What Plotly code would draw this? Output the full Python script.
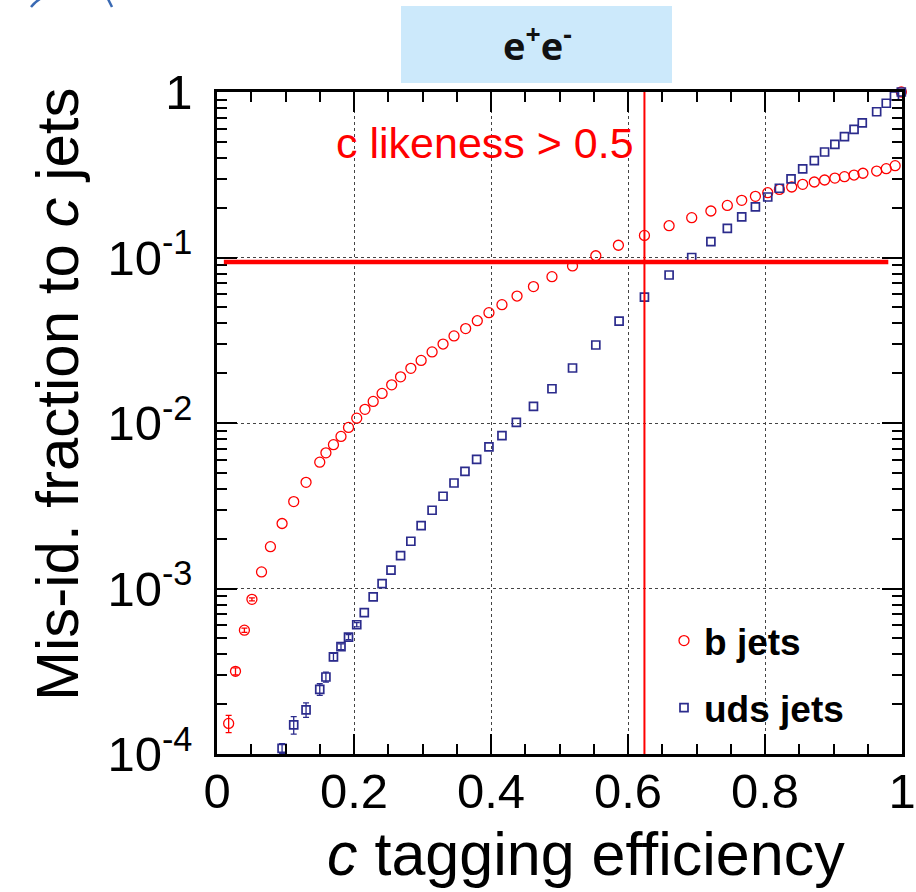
import numpy as np
import plotly.graph_objects as go

# ---------------- data ----------------
b_eff = [0.017, 0.027, 0.040, 0.051, 0.065, 0.078, 0.095, 0.112, 0.130, 0.150,
         0.159, 0.170, 0.181, 0.192, 0.204, 0.216, 0.228, 0.241, 0.255, 0.268,
         0.283, 0.298, 0.314, 0.330, 0.346, 0.363, 0.380, 0.397, 0.416, 0.438,
         0.462, 0.489, 0.519, 0.553, 0.586, 0.624, 0.660, 0.693, 0.721, 0.745,
         0.766, 0.786, 0.804, 0.821, 0.839, 0.855, 0.872, 0.887, 0.902, 0.916,
         0.930, 0.943, 0.963, 0.977, 0.990, 0.999]
b_mis = [1.53e-4, 3.16e-4, 5.6e-4, 8.6e-4, 1.26e-3, 1.79e-3, 2.47e-3, 3.35e-3, 4.38e-3, 5.8e-3,
         6.6e-3, 7.4e-3, 8.3e-3, 9.4e-3, 1.07e-2, 1.21e-2, 1.35e-2, 1.51e-2, 1.70e-2, 1.90e-2,
         2.14e-2, 2.39e-2, 2.69e-2, 3.0e-2, 3.36e-2, 3.72e-2, 4.15e-2, 4.64e-2, 5.19e-2, 5.85e-2,
         6.67e-2, 7.66e-2, 8.89e-2, 0.1025, 0.1186, 0.136, 0.1556, 0.174, 0.191, 0.2065,
         0.2216, 0.2343, 0.2463, 0.258, 0.2667, 0.2768, 0.2859, 0.294, 0.302, 0.308,
         0.315, 0.323, 0.333, 0.344, 0.359, 1.0]
b_err_rel = [0.12, 0.05, 0.03, 0.02] + [0.0] * 52

uds_eff = [0.095, 0.112, 0.130, 0.150, 0.159, 0.170, 0.181, 0.192, 0.204, 0.215,
           0.228, 0.241, 0.254, 0.268, 0.283, 0.298, 0.314, 0.330, 0.346, 0.362,
           0.379, 0.397, 0.416, 0.437, 0.462, 0.489, 0.519, 0.553, 0.587, 0.624,
           0.660, 0.693, 0.721, 0.745, 0.766, 0.786, 0.804, 0.821, 0.838, 0.855,
           0.872, 0.887, 0.902, 0.916, 0.930, 0.942, 0.963, 0.977, 0.989, 0.999]
uds_mis = [1.08e-4, 1.50e-4, 1.85e-4, 2.46e-4, 2.92e-4, 3.86e-4, 4.45e-4, 5.09e-4, 6.04e-4, 7.14e-4,
           8.89e-4, 1.07e-3, 1.29e-3, 1.58e-3, 1.93e-3, 2.40e-3, 2.97e-3, 3.61e-3, 4.34e-3, 5.1e-3,
           6.03e-3, 7.17e-3, 8.38e-3, 1.01e-2, 1.26e-2, 1.61e-2, 2.15e-2, 2.96e-2, 4.13e-2, 5.77e-2,
           7.84e-2, 0.100, 0.1247, 0.150, 0.176, 0.202, 0.232, 0.262, 0.299, 0.343,
           0.385, 0.434, 0.483, 0.537, 0.595, 0.650, 0.760, 0.855, 0.946, 1.0]
uds_err_rel = [0.07, 0.12, 0.10, 0.08, 0.07, 0.05, 0.04, 0.035, 0.03] + [0.0] * 41

x_tickvals = [0, 0.2, 0.4, 0.6, 0.8, 1]
x_ticktext = ["0", "0.2", "0.4", "0.6", "0.8", "1"]
y_tickvals = [1e-4, 1e-3, 1e-2, 1e-1, 1]
y_ticktext = ["10<sup>-4</sup>", "10<sup>-3</sup>", "10<sup>-2</sup>", "10<sup>-1</sup>", "1"]

cut_eff = 0.624      # vertical red line (c likeness > 0.5)
cut_mis = 0.094      # horizontal red line
cut_line_x = [0.01, 0.98]

# ---------------- layout geometry (pixels) ----------------
W, H = 916, 892
L, R, T, B = 217, 902, 92, 754


def px(x):
    return (x - L) / (R - L)


def py(y):
    return (B - y) / (B - T)


def errs(vals, rel):
    # NaN where no error bar is drawn (kept as NaN by the typed-array encoding)
    return np.array([v * e if e > 0 else np.nan for v, e in zip(vals, rel)], dtype=float)


FONT = "Liberation Sans, Arial, Helvetica, sans-serif"
RED = "#ff0000"
NAVY = "#2b2b8c"

fig = go.Figure()

fig.add_trace(go.Scatter(
    x=b_eff, y=b_mis, mode="markers", name="<b>b jets</b>",
    legendgroup="b", cliponaxis=False,
    marker=dict(symbol="circle-open", size=10, color=RED, line=dict(width=1.3, color=RED)),
    error_y=dict(type="data", array=errs(b_mis, b_err_rel),
                 color=RED, thickness=1.3, width=3),
))
fig.add_trace(go.Scatter(
    x=uds_eff, y=uds_mis, mode="markers", name="<b>uds jets</b>",
    legendgroup="uds", cliponaxis=False,
    marker=dict(symbol="square-open", size=8, color=NAVY, line=dict(width=1.7, color=NAVY)),
    error_y=dict(type="data", array=errs(uds_mis, uds_err_rel),
                 color=NAVY, thickness=1.3, width=3),
))

# cut lines
fig.add_shape(type="line", xref="x", yref="paper", x0=cut_eff, x1=cut_eff, y0=0, y1=1,
              line=dict(color=RED, width=2))
fig.add_shape(type="line", xref="x", yref="y", x0=cut_line_x[0], x1=cut_line_x[1],
              y0=cut_mis, y1=cut_mis, line=dict(color=RED, width=4.5))

# title box
fig.add_shape(type="rect", xref="paper", yref="paper",
              x0=px(401), x1=px(672), y0=py(83), y1=py(6),
              fillcolor="#cce9fb", line=dict(width=0), layer="below")
fig.add_annotation(xref="paper", yref="paper", x=px(537), y=py(44),
                   xanchor="center", yanchor="middle",
                   text="<b>e<sup>+</sup>e<sup>-</sup></b>", showarrow=False,
                   font=dict(family="Open Sans, Noto Sans, sans-serif", size=38, color="#111111"))

# fragments of an outer drawing at top-left
fig.add_shape(type="path", xref="paper", yref="paper",
              path=f"M {px(31)} {py(7)} Q {px(35)} {py(2)} {px(40)} {py(-1)}",
              line=dict(color="#3a6ab3", width=2.5))
fig.add_shape(type="path", xref="paper", yref="paper",
              path=f"M {px(108)} {py(-1)} Q {px(110)} {py(3)} {px(112)} {py(7)}",
              line=dict(color="#3a6ab3", width=2.5))

# red label
fig.add_annotation(xref="paper", yref="paper", x=px(485), y=py(143),
                   xanchor="center", yanchor="middle",
                   text="c likeness > 0.5", showarrow=False,
                   font=dict(family=FONT, size=43, color=RED))

# axis titles
fig.add_annotation(xref="paper", yref="paper", x=px(586), y=py(854),
                   xanchor="center", yanchor="middle",
                   text="<i>c</i> tagging efficiency", showarrow=False,
                   font=dict(family=FONT, size=61, color="black"))
fig.add_annotation(xref="paper", yref="paper", x=px(57), y=py(394),
                   xanchor="center", yanchor="middle",
                   text="Mis-id. fraction to <i>c</i> jets", showarrow=False, textangle=-90,
                   font=dict(family=FONT, size=60, color="black"))

axis_common = dict(
    showline=True, linecolor="black", linewidth=2.5, mirror="ticks",
    ticks="inside", ticklen=20, tickwidth=2, tickcolor="black",
    showgrid=True, gridcolor="#444444", gridwidth=1, griddash="dot",
    zeroline=False, automargin=False,
    tickfont=dict(family=FONT, size=49, color="black"),
)

fig.update_xaxes(
    range=[0, 1], tickmode="array", tickvals=x_tickvals, ticktext=x_ticktext,
    minor=dict(dtick=0.05, ticks="inside", ticklen=10, tickwidth=2, tickcolor="black", showgrid=False),
    ticklabelstandoff=-8,
    **axis_common,
)
fig.update_yaxes(
    type="log", range=[-4, 0], tickmode="array", tickvals=y_tickvals, ticktext=y_ticktext,
    minor=dict(dtick="D1", ticks="inside", ticklen=10, tickwidth=2, tickcolor="black", showgrid=False),
    ticklabelstandoff=12,
    **axis_common,
)

fig.update_layout(
    width=W, height=H,
    margin=dict(l=L, r=W - R, t=T, b=H - B, pad=0, autoexpand=False),
    paper_bgcolor="white", plot_bgcolor="white",
    showlegend=True,
    legend=dict(x=px(664), y=py(610), xanchor="left", yanchor="top",
                bgcolor="rgba(0,0,0,0)", borderwidth=0,
                font=dict(family=FONT, size=37, color="black"),
                traceorder="grouped", tracegroupgap=16, itemwidth=30),
)

fig.write_html("out.html", config={"displayModeBar": False},
               post_script="document.body.style.margin='0px';")
